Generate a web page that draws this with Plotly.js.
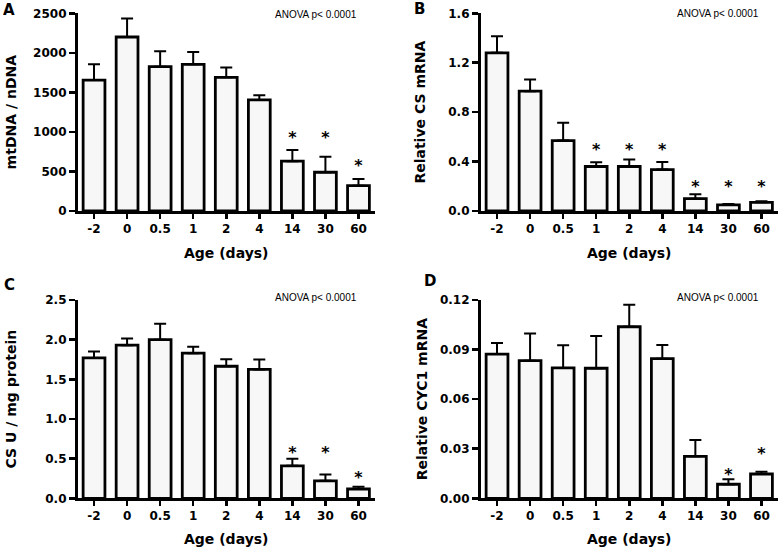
<!DOCTYPE html>
<html>
<head>
<meta charset="utf-8">
<script src="https://cdn.plot.ly/plotly-3.0.1.min.js"></script>
<style>html,body{margin:0;padding:0;background:#fff}#chart{width:778px;height:547px}</style>
</head>
<body>
<div id="chart"></div>
<script>
// ---- data ----
const ages = ["-2", "0", "0.5", "1", "2", "4", "14", "30", "60"];

const mtdna    = [1655, 2200, 1825, 1855, 1690, 1405, 630, 490, 320];
const mtdnaSem = [200, 235, 195, 155, 125, 60, 140, 195, 85];
const mtdnaSig = [null, null, null, null, null, null, 909, 909, 556];

const csMrna    = [1.28, 0.97, 0.57, 0.36, 0.36, 0.335, 0.10, 0.05, 0.07];
const csMrnaSem = [0.135, 0.095, 0.145, 0.035, 0.057, 0.062, 0.035, 0.006, 0.008];
const csMrnaSig = [null, null, null, 0.484, 0.484, 0.484, 0.184, 0.184, 0.184];

const csAct    = [1.77, 1.93, 2.00, 1.83, 1.665, 1.625, 0.41, 0.22, 0.117];
const csActSem = [0.08, 0.085, 0.20, 0.08, 0.088, 0.126, 0.088, 0.08, 0.029];
const csActSig = [null, null, null, null, null, null, 0.558, 0.558, 0.243];

const cyc1    = [0.0873, 0.0833, 0.0789, 0.0787, 0.1038, 0.0845, 0.0254, 0.0085, 0.0147];
const cyc1Sem = [0.0067, 0.0165, 0.0137, 0.0195, 0.0134, 0.0083, 0.0099, 0.0030, 0.0014];
const cyc1Sig = [null, null, null, null, null, null, null, 0.0137, 0.0264];

const yTitles = ["mtDNA / nDNA", "Relative CS mRNA", "CS U / mg protein", "Relative CYC1 mRNA"];
const xTitle = "Age (days)";
const panelLetters = ["A", "B", "C", "D"];
const anovaText = "ANOVA p< 0.0001";

// ---- build ----
const W = 778, H = 547;
const FONT = "DejaVu Sans";
const px = v => v / W;
const py = v => 1 - v / H;

const panels = [
  {vals: mtdna, sem: mtdnaSem, sig: mtdnaSig, range: [0, 2500], dtick: 500, fmt: "d", standoff: 13},
  {vals: csMrna, sem: csMrnaSem, sig: csMrnaSig, range: [0, 1.6], dtick: 0.4, fmt: ".1f", standoff: 20},
  {vals: csAct, sem: csActSem, sig: csActSig, range: [0, 2.5], dtick: 0.5, fmt: ".1f", standoff: 26},
  {vals: cyc1, sem: cyc1Sem, sig: cyc1Sig, range: [0, 0.12], dtick: 0.03, fmt: ".2f", standoff: 9}
];

const xDomains = [[px(77.5), px(375)], [px(480.5), 1], [px(77.5), px(375)], [px(480.5), 1]];
const yDomains = [[py(211), py(13.3)], [py(211), py(13.3)], [py(498.3), py(300)], [py(498.3), py(300)]];

const traces = [];
const layout = {
  width: W, height: H,
  margin: {l: 0, r: 0, t: 0, b: 0},
  paper_bgcolor: "#fff", plot_bgcolor: "#fff",
  showlegend: false,
  font: {family: FONT, color: "#000"},
  annotations: []
};

panels.forEach((p, i) => {
  const n = i === 0 ? "" : String(i + 1);
  const xa = "x" + n, ya = "y" + n;
  traces.push({
    type: "bar", x: ages, y: p.vals, xaxis: xa, yaxis: ya,
    width: 0.66,
    marker: {color: "#f7f7f7", line: {color: "#000", width: 2.8}},
    error_y: {type: "data", array: p.sem, arrayminus: p.vals.map(() => 0), symmetric: false,
              color: "#000", thickness: 2, width: 6},
    hoverinfo: "x+y"
  });
  traces.push({
    type: "scatter", mode: "text", x: ages, y: p.sig, xaxis: xa, yaxis: ya,
    text: p.sig.map(v => v === null ? "" : "*"),
    textposition: "middle center",
    textfont: {family: FONT, size: 16, weight: "bold", color: "#000"},
    hoverinfo: "skip"
  });
  layout["xaxis" + n] = {
    domain: xDomains[i], anchor: ya, type: "category", range: [-0.5, 8.5],
    showline: true, linecolor: "#000", linewidth: 2.6,
    ticks: "outside", ticklen: 5, tickwidth: 2.5, tickcolor: "#000",
    showgrid: false, zeroline: false, fixedrange: true,
    tickfont: {family: FONT, size: 12, weight: "bold", color: "#000"},
    title: {text: xTitle, standoff: 13, font: {family: FONT, size: 14, weight: "bold", color: "#000"}}
  };
  layout["yaxis" + n] = {
    domain: yDomains[i], anchor: xa, range: p.range, tick0: 0, dtick: p.dtick, tickformat: p.fmt,
    showline: true, linecolor: "#000", linewidth: 2.6,
    ticks: "outside", ticklen: 6, tickwidth: 2.5, tickcolor: "#000",
    showgrid: false, zeroline: false, fixedrange: true,
    tickfont: {family: FONT, size: 12, weight: "bold", color: "#000"},
    title: {text: yTitles[i], standoff: p.standoff, font: {family: FONT, size: 14, weight: "bold", color: "#000"}}
  };
});

// panel letters
const letterPos = [[1, 10], [412, 9], [2, 285], [422, 281]];
letterPos.forEach((pos, i) => {
  layout.annotations.push({
    xref: "paper", yref: "paper", x: px(pos[0]), y: py(pos[1]), xanchor: "left", yanchor: "middle",
    text: panelLetters[i], showarrow: false,
    font: {family: FONT, size: 15, weight: "bold", color: "#000"}
  });
});
// ANOVA notes
const anovaPos = [[315.5, 14], [718, 13], [315.5, 298], [718, 298]];
anovaPos.forEach(pos => {
  layout.annotations.push({
    xref: "paper", yref: "paper", x: px(pos[0]), y: py(pos[1]), xanchor: "center", yanchor: "middle",
    text: anovaText, showarrow: false,
    font: {family: "Liberation Sans", size: 10, color: "#000"}
  });
});

Plotly.newPlot("chart", traces, layout, {displayModeBar: false, staticPlot: true});
</script>
</body>
</html>
